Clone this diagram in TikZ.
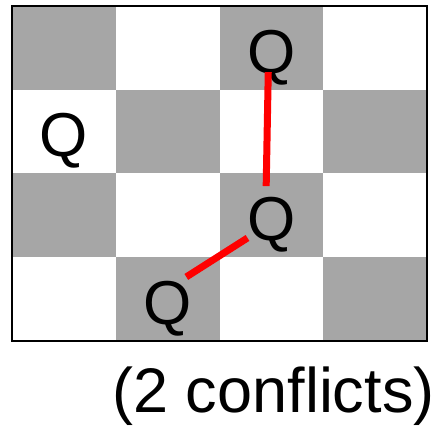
\documentclass[tikz,border=0pt]{standalone}
\usepackage{fontspec}
\setmainfont{Liberation Sans}
\usetikzlibrary{calc}
\definecolor{cell}{RGB}{166,166,166}
\colorlet{conflict}{red}
\tikzset{
  board/.style  ={draw=black, line width=1pt},
  queen/.style  ={inner sep=0pt, anchor=base,
                  font=\fontsize{31}{36}\selectfont},
  clash/.style  ={-, conflict, line width=3.5pt},
  caption/.style={inner sep=0pt, anchor=base east,
                  font=\fontsize{31.5}{36}\selectfont},
}

\begin{document}
\begin{tikzpicture}[x=51.875pt, y=41.875pt]
\useasboundingbox (-0.116,-1.015) rectangle (4.145,4.072);

% --- dark squares ---
\foreach \col/\row in {0/3, 2/3, 1/2, 3/2, 0/1, 2/1, 1/0, 3/0}
  \fill[cell] (\col,\row) rectangle ++(1,1);

% --- frame ---
\draw[board] (0,0) rectangle (4,4);

% --- queens ---
\node[queen] (qa) at (2.5,3.2) {Q};
\node[queen] (qb) at (0.5,2.2) {Q};
\node[queen] (qc) at (2.5,1.2) {Q};
\node[queen] (qd) at (1.5,0.2) {Q};

% --- conflicts ---
\draw[clash] ($(qa.base)+(-0.03,0.01)$) -- ($(qc.base)+(-0.05,0.65)$);
\draw[clash] ($(qc.base)+(-0.23,0.03)$) -- ($(qd.base)+(0.18,0.565)$);

\node[caption] (count) at (4.077,-0.86) {(2 conflicts)};

\end{tikzpicture}
\end{document}
